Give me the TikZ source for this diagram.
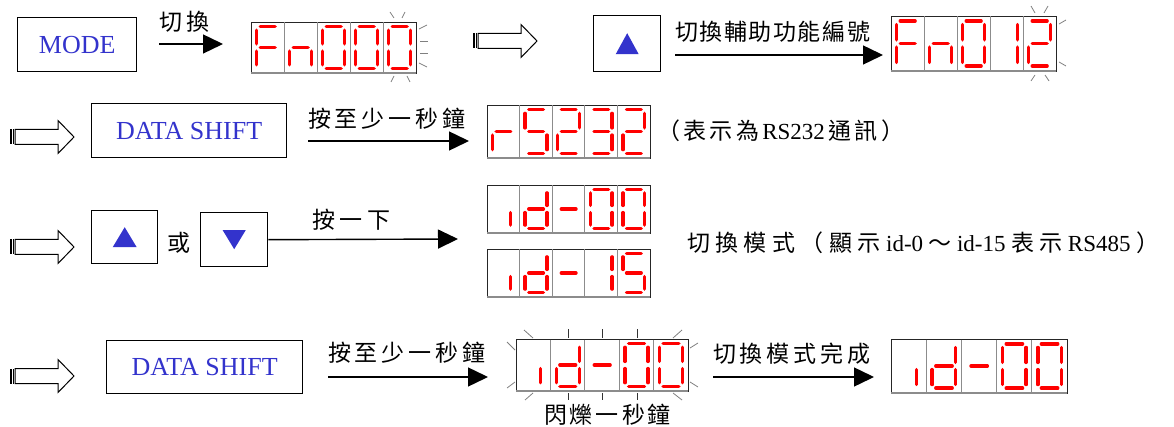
\documentclass[tikz,border=0pt]{standalone}
\usepackage{fontspec}
\setmainfont{Liberation Serif}
\newfontfamily\cjk{Noto Sans CJK TC}
\usetikzlibrary{arrows.meta}
\definecolor{kblue}{RGB}{51,51,204}
\newcommand{\spread}[2]{\makebox[#1][s]{#2}}
% seven-segment helpers
\newcommand{\display}[6]{%
  \node[dispbox,minimum width=#4,minimum height=#5] (#1) at (#2,#3) {};%
  \def\dX{#2}\def\dY{#3}\def\dW{#4}\def\dH{#5}%
  \foreach \k in {1,2,3,4}{\draw[divider] ({#2+\k*#4/5},{#3+0.5}) -- ({#2+\k*#4/5},{#3+#5-0.5});}%
  \draw[bottomedge] (#2,{#3+#5}) -- ({#2+#4},{#3+#5});%
  #6}
\newcommand{\dg}[2]{%
  \pgfmathsetmacro\cX{\dX+(#1-1)*\dW/5}%
  \pgfmathsetmacro\cW{\dW/5}%
  \pgfmathsetmacro\sL{\cX+0.17*\cW}%
  \pgfmathsetmacro\sR{\cX+0.84*\cW}%
  \pgfmathsetmacro\sI{\cX+0.72*\cW}%
  \pgfmathsetmacro\sT{\dY+0.09*\dH}%
  \pgfmathsetmacro\sB{\dY+0.91*\dH}%
  \pgfmathsetmacro\sM{(\sT+\sB)/2}%
  #2}
\newcommand{\SGa}{\draw[seg] (\sL,\sT) -- (\sR,\sT);}
\newcommand{\SGb}{\draw[seg] (\sR,\sT) -- (\sR,\sM);}
\newcommand{\SGc}{\draw[seg] (\sR,\sM) -- (\sR,\sB);}
\newcommand{\SGd}{\draw[seg] (\sL,\sB) -- (\sR,\sB);}
\newcommand{\SGe}{\draw[seg] (\sL,\sM) -- (\sL,\sB);}
\newcommand{\SGf}{\draw[seg] (\sL,\sT) -- (\sL,\sM);}
\newcommand{\SGg}{\draw[seg] (\sL,\sM) -- (\sR,\sM);}
\newcommand{\SGi}{\draw[seg] (\sI,\sM) -- (\sI,\sB);}
\newcommand{\cZero}{\SGa\SGb\SGc\SGd\SGe\SGf}
\newcommand{\cOne}{\SGb\SGc}
\newcommand{\cTwo}{\SGa\SGb\SGg\SGe\SGd}
\newcommand{\cThree}{\SGa\SGb\SGg\SGc\SGd}
\newcommand{\cFive}{\SGa\SGf\SGg\SGc\SGd}
\newcommand{\cF}{\SGa\SGf\SGe\SGg}
\newcommand{\cN}{\SGg\SGe\SGc}
\newcommand{\cR}{\SGg\SGe}
\newcommand{\cD}{\SGb\SGc\SGd\SGe\SGg}
\newcommand{\cI}{\SGi}
\newcommand{\cDash}{\SGg}
\newcommand{\hollowarrow}[3]{%
  \coordinate (#1) at (#2,#3);%
  \begin{scope}[shift={(#2,#3)}]
    \draw[hollow] (5,-7.5) -- (48,-7.5) -- (48,-16.5) -- (64,0) -- (48,16.5) -- (48,7.5) -- (5,7.5) -- cycle;
    \fill (0,-7.5) rectangle (2.3,7.5);
    \fill (3.2,-7.5) rectangle (4.3,7.5);
  \end{scope}}
\begin{document}
\begin{tikzpicture}[x=1pt,y=-1pt,
  keybox/.style={draw=black,line width=1.4pt,inner sep=0pt,anchor=north west,
    text=kblue,font=\fontsize{26}{26}\selectfont},
  dispbox/.style={draw=black!85,line width=0.9pt,inner sep=0pt,anchor=north west},
  divider/.style={draw=black!45,line width=0.9pt},
  bottomedge/.style={draw=black!45,line width=1.6pt},
  seg/.style={draw=red,line width=3.4pt,line cap=round,shorten <=3.6pt,shorten >=3.6pt},
  blink/.style={draw=black!50,line width=0.8pt},
  arr/.style={line width=1.4pt,-{Triangle[length=20pt,width=19pt]}},
  lbl/.style={font=\cjk\fontsize{23}{23}\selectfont,inner sep=0pt},
  hollow/.style={draw=black,line width=1pt,fill=white},
  tri/.style={fill=kblue,draw=none}
]
\useasboundingbox (0,0) rectangle (1174,427);

% ---------- row 1 ----------
\node[keybox,minimum width=119,minimum height=54] (mode) at (17,17) {MODE};
\coordinate (a1s) at (159,44); \coordinate (a1e) at (223,44);
\draw[arr] (a1s) -- (a1e);
\node[lbl] (l1) at (184.5,22) {\spread{51pt}{切\hfil 換}};
\display{dA}{251}{22}{165}{51}{\dg{1}{\cF}\dg{2}{\cN}\dg{3}{\cZero}\dg{4}{\cZero}\dg{5}{\cZero}}
\draw[blink] (390,12) -- (394,18);
\draw[blink] (405,12) -- (402,18);
\draw[blink] (419,29) -- (427,25);
\draw[blink] (420,41) -- (428,41);
\draw[blink] (420,53) -- (428,53);
\draw[blink] (419,63) -- (427,67);
\draw[blink] (394,76) -- (391,82);
\draw[blink] (407,76) -- (410,82);

\hollowarrow{h1}{473}{41}
\node[keybox,minimum width=67,minimum height=56] (up1) at (593,15) {};
\fill[tri] ([shift={(-11.5,10.5)}]up1.center) -- ([shift={(11.5,10.5)}]up1.center) -- ([shift={(0,-10.5)}]up1.center) -- cycle;
\coordinate (a2s) at (675,55); \coordinate (a2e) at (883,55);
\draw[arr] (a2s) -- (a2e);
\node[lbl] (l2) at (772.5,32) {\spread{195pt}{切\hfil 換\hfil 輔\hfil 助\hfil 功\hfil 能\hfil 編\hfil 號}};
\display{dB}{891}{16}{165}{55}{\dg{1}{\cF}\dg{2}{\cN}\dg{3}{\cZero}\dg{4}{\cOne}\dg{5}{\cTwo}}
\draw[blink] (1031,6) -- (1035,13);
\draw[blink] (1048,6) -- (1044,13);
\draw[blink] (1059,24) -- (1066,20);
\draw[blink] (1059,62) -- (1066,66);
\draw[blink] (1035,75) -- (1031,81);
\draw[blink] (1045,75) -- (1049,81);

% ---------- row 2 ----------
\hollowarrow{h2}{10}{137}
\node[keybox,minimum width=195,minimum height=54] (ds1) at (91,103) {DATA SHIFT};
\coordinate (a3s) at (308,141); \coordinate (a3e) at (469,141);
\draw[arr] (a3s) -- (a3e);
\node[lbl] (l3) at (387,119) {\spread{158pt}{按\hfil 至\hfil 少\hfil 一\hfil 秒\hfil 鐘}};
\display{dC}{487}{105}{163}{53}{\dg{1}{\cR}\dg{2}{\cFive}\dg{3}{\cTwo}\dg{4}{\cThree}\dg{5}{\cTwo}}
\node[lbl] (n1) at (780.5,131) {\spread{247pt}{（\hfil 表\hfil 示\hfil 為\hfil{\rmfamily RS232}\hfil 通\hfil 訊\hfil ）}};

% ---------- row 3 ----------
\hollowarrow{h3}{10}{247}
\node[keybox,minimum width=66,minimum height=53] (up2) at (91,210) {};
\fill[tri] ([shift={(-12,10)}]up2.center) -- ([shift={(12,10)}]up2.center) -- ([shift={(0,-10)}]up2.center) -- cycle;
\node[lbl] (or) at (178.5,243) {或};
\node[keybox,minimum width=67,minimum height=54] (dn) at (200,212) {};
\fill[tri] ([shift={(-11.5,-9.5)}]dn.center) -- ([shift={(11.5,-9.5)}]dn.center) -- ([shift={(0,9.5)}]dn.center) -- cycle;
\coordinate (a4e) at (458,239);
\draw[arr] (dn.east) -- (a4e);
\node[lbl] (l4) at (351.5,220) {\spread{79pt}{按\hfil 一\hfil 下}};
\display{dD}{487}{185}{163}{48}{\dg{1}{\cI}\dg{2}{\cD}\dg{3}{\cDash}\dg{4}{\cZero}\dg{5}{\cZero}}
\display{dE}{487}{249}{163}{48}{\dg{1}{\cI}\dg{2}{\cD}\dg{3}{\cDash}\dg{4}{\cOne}\dg{5}{\cFive}}
\node[lbl] (n2) at (923,243) {\spread{472pt}{切\hfil 換\hfil 模\hfil 式\hfil （\hfil 顯\hfil 示\hfil{\rmfamily id-0}\hfil ～\hfil{\rmfamily id-15}\hfil 表\hfil 示\hfil{\rmfamily RS485}\hfil ）}};

% ---------- row 4 ----------
\hollowarrow{h4}{10}{376}
\node[keybox,minimum width=196,minimum height=53] (ds2) at (106,340) {DATA SHIFT};
\coordinate (a5s) at (328,377); \coordinate (a5e) at (488,377);
\draw[arr] (a5s) -- (a5e);
\node[lbl] (l5) at (406.5,353) {\spread{157pt}{按\hfil 至\hfil 少\hfil 一\hfil 秒\hfil 鐘}};
\display{dF}{516}{339}{172}{52}{\dg{1}{\cI}\dg{2}{\cD}\dg{3}{\cDash}\dg{4}{\cZero}\dg{5}{\cZero}}
\foreach \tx in {568,602,637}{\draw[blink,black!80] (\tx,329) -- (\tx,338); \draw[blink,black!80] (\tx,393) -- (\tx,400);}
\draw[blink] (524,330) -- (533,338);
\draw[blink] (507,342) -- (515,350);
\draw[blink] (507,388) -- (515,382);
\draw[blink] (525,400) -- (533,393);
\draw[blink] (682,330) -- (673,338);
\draw[blink] (698,343) -- (690,348);
\draw[blink] (698,387) -- (690,382);
\draw[blink] (682,400) -- (673,393);
\node[lbl] (l7) at (607.5,415) {\spread{127pt}{閃\hfil 爍\hfil 一\hfil 秒\hfil 鐘}};
\coordinate (a6s) at (713,377); \coordinate (a6e) at (874,377);
\draw[arr] (a6s) -- (a6e);
\node[lbl] (l6) at (792,354) {\spread{158pt}{切\hfil 換\hfil 模\hfil 式\hfil 完\hfil 成}};
\display{dG}{891}{339}{176}{54}{\dg{1}{\cI}\dg{2}{\cD}\dg{3}{\cDash}\dg{4}{\cZero}\dg{5}{\cZero}}
\end{tikzpicture}
\end{document}
